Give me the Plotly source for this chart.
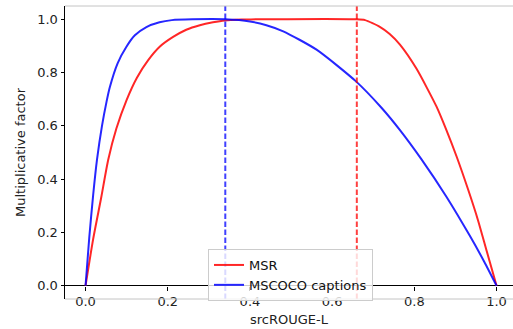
import plotly.graph_objects as go

# MSR curve
msr_x = [0, 0.0185, 0.038, 0.055, 0.075, 0.0998, 0.125, 0.152, 0.181, 0.213, 0.245, 0.278, 0.31, 0.339,
         0.38, 0.42, 0.66, 0.68, 0.716, 0.74, 0.765, 0.805, 0.854, 0.878, 0.903, 0.931, 0.955, 0.976, 1.0]
msr_y = [0, 0.175, 0.33, 0.472, 0.59, 0.697, 0.781, 0.846, 0.898, 0.934, 0.961, 0.978, 0.989, 0.996,
         0.999, 1.0, 1.0, 0.997, 0.972, 0.945, 0.905, 0.815, 0.672, 0.584, 0.484, 0.36, 0.245, 0.13, 0.0]

# MSCOCO captions curve
coco_x = [0, 0.009, 0.0185, 0.028, 0.04, 0.051, 0.059, 0.078, 0.0998, 0.12, 0.148, 0.18, 0.21, 0.26,
          0.34, 0.40, 0.44, 0.481, 0.562, 0.658, 0.72, 0.765, 0.817, 0.878, 0.935, 0.97, 1.0]
coco_y = [0, 0.18, 0.34, 0.475, 0.6, 0.69, 0.745, 0.835, 0.898, 0.94, 0.971, 0.989, 0.997, 1.0,
          1.0, 0.992, 0.978, 0.955, 0.886, 0.767, 0.668, 0.584, 0.475, 0.334, 0.187, 0.09, 0.0]

# vertical thresholds
thresholds = [0.34, 0.66]
threshold_colors = ["rgba(0,0,255,0.75)", "rgba(255,0,0,0.75)"]

tick_vals = [0.0, 0.2, 0.4, 0.6, 0.8, 1.0]

FONT = "DejaVu Sans"

fig = go.Figure()
fig.add_trace(go.Scatter(x=msr_x, y=msr_y, mode="lines", name="MSR",
                         line=dict(color="rgba(255,0,0,0.85)", width=2, shape="spline", smoothing=0.6)))
fig.add_trace(go.Scatter(x=coco_x, y=coco_y, mode="lines", name="MSCOCO captions",
                         line=dict(color="rgba(0,0,255,0.85)", width=2, shape="spline", smoothing=0.6)))

for xv, c in zip(thresholds, threshold_colors):
    fig.add_vline(x=xv, line=dict(color=c, width=2, dash="5.5px,2.5px"), layer="above")

# gray frame top/bottom
for yv in [0, 1]:
    fig.add_shape(type="line", xref="paper", yref="paper", x0=0, x1=1, y0=yv, y1=yv,
                  line=dict(color="#c4c4c4", width=1))

fig.update_layout(
    width=513, height=329,
    margin=dict(l=65, r=0, t=6, b=30),
    paper_bgcolor="white", plot_bgcolor="white",
    font=dict(family=FONT, size=13, color="#222"),
    showlegend=True,
    legend=dict(x=(208 - 65) / 448, y=1 - (249 - 6) / 293, xanchor="left", yanchor="top",
                bgcolor="rgba(255,255,255,0.8)", bordercolor="#cccccc", borderwidth=1,
                font=dict(family=FONT, size=13, color="#111"), tracegroupgap=0),
    xaxis=dict(range=[-0.05, 1.04], tickvals=tick_vals, ticktext=[f"{v:.1f}" for v in tick_vals],
               showgrid=False, zeroline=False, showline=False,
               ticks="outside", ticklen=3.5, tickcolor="black", tickwidth=1,
               anchor="free", position=13 / 293,
               title=dict(text="srcROUGE-L", standoff=6, font=dict(family=FONT, size=13, color="#222")),
               automargin=False),
    yaxis=dict(range=[-0.05, 1.05], tickvals=tick_vals, ticktext=[f"{v:.1f}" for v in tick_vals],
               showgrid=False, zeroline=True, zerolinecolor="black", zerolinewidth=1.2,
               showline=True, linecolor="black", linewidth=1,
               ticks="outside", ticklen=3.5, tickcolor="black", tickwidth=1,
               title=dict(text="Multiplicative factor", standoff=8, font=dict(family=FONT, size=13, color="#222")),
               automargin=False),
)

fig.write_html("out.html", config={"displayModeBar": False},
               post_script="document.body.style.margin='0px';document.body.style.overflow='hidden';")
